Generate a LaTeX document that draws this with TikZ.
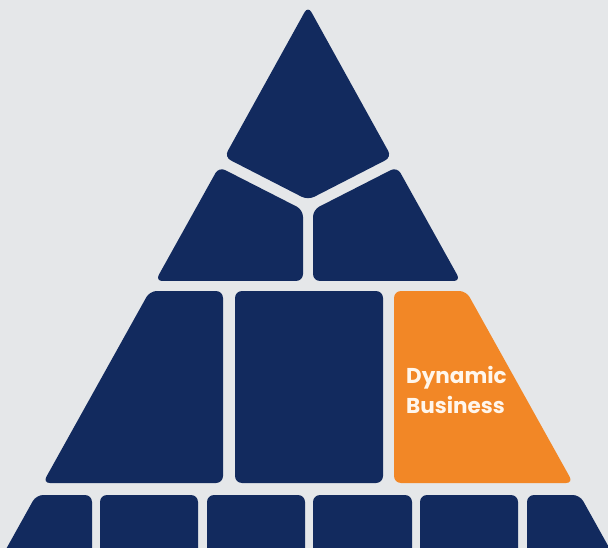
\documentclass[tikz,border=0pt]{standalone}
\usepackage{fontspec}
\setmainfont{Poppins}
\definecolor{bgc}{RGB}{229,231,233}
\definecolor{navy}{RGB}{18,42,94}
\definecolor{orng}{RGB}{242,135,38}
\definecolor{cream}{RGB}{255,246,236}
\begin{document}
\begin{tikzpicture}[x=1pt,y=-1pt,
  tile/.style={fill=navy, rounded corners=7pt},
  hot/.style={fill=orng, rounded corners=7pt},
  lbl/.style={anchor=base west, inner sep=0pt, text=cream, font=\fontsize{21.5}{30}\selectfont\bfseries}]
\useasboundingbox (0,0) rectangle (608,548);
\clip (0,0) rectangle (608,548);
\fill[bgc] (0,0) rectangle (608,548);
% top kite
\path[tile] (308,6) -- (224.4,157.1) -- (308,200) -- (391.6,157.1) -- cycle;
% tier 2
\path[tile] (218.9,166.9) -- (303,209.8) -- (303,281) -- (155.4,281) -- cycle;
\path[tile] (397.1,166.9) -- (313,209.8) -- (313,281) -- (460.6,281) -- cycle;
% tier 3
\path[tile] (149.8,291) -- (223,291) -- (223,483) -- (42.9,483) -- cycle;
\path[tile] (235,291) -- (383,291) -- (383,483) -- (235,483) -- cycle;
\path[hot] (394,291) -- (466.2,291) -- (573.1,483) -- (394,483) -- cycle;
% tier 4
\path[tile] (36.2,495) -- (92,495) -- (92,560) -- (0,560) -- cycle;
\path[tile] (100,495) -- (198,495) -- (198,560) -- (100,560) -- cycle;
\path[tile] (207,495) -- (305,495) -- (305,560) -- (207,560) -- cycle;
\path[tile] (313,495) -- (412,495) -- (412,560) -- (313,560) -- cycle;
\path[tile] (420,495) -- (518,495) -- (518,560) -- (420,560) -- cycle;
\path[tile] (527,495) -- (579.8,495) -- (616,560) -- (527,560) -- cycle;
% label
\node[lbl] (dyn) at (406,383) {Dynamic};
\node[lbl] (bus) at (406,413) {Business};
\end{tikzpicture}
\end{document}
